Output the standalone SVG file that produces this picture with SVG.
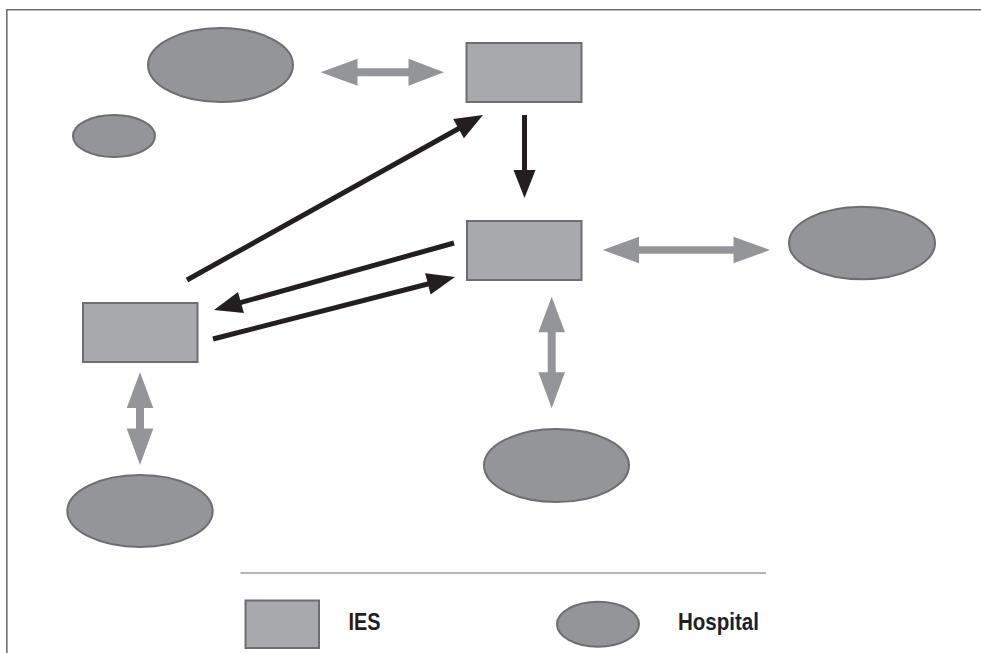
<svg xmlns="http://www.w3.org/2000/svg" width="981" height="653" viewBox="0 0 981 653">
<style>
.ies{fill:#a7a9ac;stroke:#6d6e71;stroke-width:2}
.hosp{fill:#939598;stroke:#6d6e71;stroke-width:2}
.dbl{fill:#939598;stroke:none}
.blk{stroke:#231f20;stroke-width:5;fill:none}
.hd{fill:#231f20}
.lbl{font-family:"Liberation Sans",Arial,sans-serif;font-weight:bold;font-size:23px;fill:#231f20}
.frame{stroke:#6d6e71;stroke-width:1.6;fill:none}
</style>
<rect width="981" height="653" fill="#fff"/>
<path class="frame" d="M6.8,653 V9.8 H981"/>
<g id="hospital-top"><ellipse class="hosp" cx="220.5" cy="65" rx="72.5" ry="37"/></g>
<g id="hospital-small"><ellipse class="hosp" cx="114" cy="136" rx="41" ry="21"/></g>
<g id="ies-top"><rect class="ies" x="466.5" y="43" width="115" height="59"/></g>
<g id="ies-mid"><rect class="ies" x="467" y="221" width="114.5" height="59"/></g>
<g id="ies-left"><rect class="ies" x="83" y="303" width="114.5" height="59"/></g>
<g id="hospital-right"><ellipse class="hosp" cx="862" cy="243" rx="73" ry="36.3"/></g>
<g id="hospital-bottom-mid"><ellipse class="hosp" cx="556.5" cy="465.5" rx="72.5" ry="36.5"/></g>
<g id="hospital-bottom-left"><ellipse class="hosp" cx="140" cy="511" rx="72.7" ry="36"/></g>
<g id="connectors">
<polygon class="dbl" points="320.7,72.3 357.5,58.8 357.5,68.3 408.5,68.3 408.5,58.8 444,72.3 408.5,85.8 408.5,76.3 357.5,76.3 357.5,85.8"/>
<polygon class="dbl" points="602.7,250 639,236.7 639,246.2 733.5,246.2 733.5,236.7 770,250 733.5,263.3 733.5,253.8 639,253.8 639,263.3"/>
<polygon class="dbl" points="140,372.3 153.3,408 144,408 144,428.5 153.3,428.5 140,465 126.7,428.5 136,428.5 136,408 126.7,408"/>
<polygon class="dbl" points="551.7,296.7 565,332.3 555.7,332.3 555.7,372.3 565,372.3 551.7,408.3 538.4,372.3 547.7,372.3 547.7,332.3 538.4,332.3"/>
<line class="blk" x1="524.5" y1="115" x2="524.5" y2="178"/>
<polygon class="hd" points="524.5,198 513.5,170 535.5,170"/>
<line class="blk" x1="187" y1="280" x2="465.5" y2="124.7"/>
<polygon class="hd" points="483,115 463.9,138.2 453.2,119"/>
<line class="blk" x1="454" y1="243" x2="233.3" y2="304.6"/>
<polygon class="hd" points="214,310 243.9,313.1 238,291.9"/>
<line class="blk" x1="213" y1="339" x2="435.6" y2="282"/>
<polygon class="hd" points="455,277 430.6,294.6 425.2,273.3"/>
</g>
<g id="legend">
<line x1="240.5" y1="573" x2="766" y2="573" stroke="#6d6e71" stroke-width="1.2"/>
<rect class="ies" x="245.5" y="600.5" width="73.5" height="47.5"/>
<text class="lbl" x="348.6" y="630.4" textLength="32" lengthAdjust="spacingAndGlyphs">IES</text>
<ellipse class="hosp" cx="598" cy="624.3" rx="41" ry="22.5"/>
<text class="lbl" x="678" y="630.4" textLength="81" lengthAdjust="spacingAndGlyphs">Hospital</text>
</g>
</svg>
